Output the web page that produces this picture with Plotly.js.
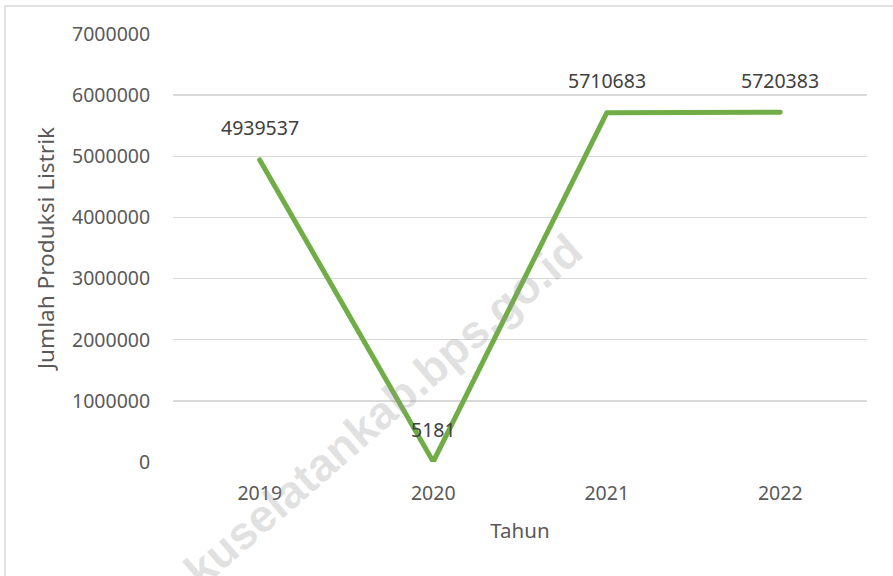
<!DOCTYPE html>
<html>
<head>
<meta charset="utf-8">
<script src="https://cdn.plot.ly/plotly-3.0.1.min.js"></script>
<style>html,body{margin:0;padding:0;background:#fff;}#chart{width:893px;height:576px;}
#chart .js-line{stroke-linecap:round;stroke-linejoin:round;}</style>
</head>
<body>
<div id="chart"></div>
<script>
const years = ['2019', '2020', '2021', '2022'];
const produksi = [4939537, 5181, 5710683, 5720383];
const labels = ['4939537', '5181', '5710683', '5720383'];
const yTicks = [0, 1000000, 2000000, 3000000, 4000000, 5000000, 6000000, 7000000];
const yTickText = ['0', '1000000', '2000000', '3000000', '4000000', '5000000', '6000000', '7000000'];

const FONT = 'Noto Sans, Liberation Sans, sans-serif';
const GREY = '#595959';

const trace = {
  x: years,
  y: produksi,
  type: 'scatter',
  mode: 'lines',
  line: {color: '#70AD47', width: 5},
  hoverinfo: 'skip',
  showlegend: false
};

// category axis: annotation x is the category's serial index
const annotations = years.map((yr, i) => ({
  x: i, y: produksi[i], xref: 'x', yref: 'y',
  text: labels[i], showarrow: false, yshift: 32,
  font: {family: FONT, size: 19.5, color: '#404040'}
}));

annotations.push({
  xref: 'paper', yref: 'paper', x: 0.288, y: 0.1,
  xanchor: 'center', yanchor: 'middle',
  text: '<b>okuselatankab.bps.go.id</b>', showarrow: false, textangle: -41,
  font: {family: 'Liberation Sans, Arial, sans-serif', size: 46, color: 'rgba(150,150,150,0.28)'}
});

const layout = {
  width: 893, height: 576,
  margin: {l: 173, r: 26, t: 34, b: 114},
  paper_bgcolor: '#fff', plot_bgcolor: '#fff',
  font: {family: FONT, color: GREY, size: 19.5},
  xaxis: {
    type: 'category', range: [-0.5, 3.5],
    showgrid: false, zeroline: false, showline: false,
    ticks: 'outside', ticklen: 14, tickcolor: 'rgba(0,0,0,0)',
    tickfont: {family: FONT, size: 19.5, color: GREY},
    title: {text: 'Tahun', font: {family: FONT, size: 20.5, color: GREY}, standoff: 18},
    automargin: false
  },
  yaxis: {
    range: [0, 7000000], tickvals: yTicks, ticktext: yTickText,
    showgrid: true, gridcolor: '#D9D9D9', gridwidth: 1.5,
    zeroline: false, showline: false,
    ticks: 'outside', ticklen: 18, tickcolor: 'rgba(0,0,0,0)',
    tickfont: {family: FONT, size: 19.5, color: GREY},
    title: {text: 'Jumlah Produksi Listrik', font: {family: FONT, size: 22.6, color: GREY}, standoff: 11},
    automargin: false
  },
  shapes: [{
    type: 'rect', xref: 'paper', yref: 'paper',
    x0: -0.242, x1: 1.1, y0: -0.5, y1: 1.0654,
    line: {color: '#D9D9D9', width: 1.5}, fillcolor: 'rgba(0,0,0,0)', layer: 'below'
  }],
  annotations: annotations
};

Plotly.newPlot('chart', [trace], layout, {staticPlot: true, displayModeBar: false});
</script>
</body>
</html>
